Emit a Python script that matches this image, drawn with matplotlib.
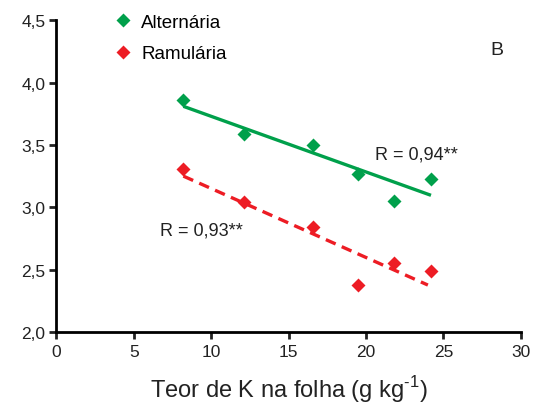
import matplotlib
matplotlib.use('Agg')
import matplotlib.pyplot as plt

plt.rcParams['font.family'] = ['Liberation Sans', 'DejaVu Sans']
plt.rcParams['mathtext.fontset'] = 'custom'
plt.rcParams['mathtext.rm'] = 'Liberation Sans'

# leaf K content (g/kg) and disease values
k_leaf = [8.2, 12.1, 16.6, 19.5, 21.8, 24.2]
alternaria = [3.86, 3.585, 3.50, 3.265, 3.05, 3.225]
ramularia = [3.31, 3.04, 2.84, 2.38, 2.55, 2.49]

# fitted trend lines (end points)
alt_fit_x = [8.2, 24.2]
alt_fit_y = [3.81, 3.096]
ram_fit_x = [8.2, 24.0]
ram_fit_y = [3.25, 2.376]

green = '#00a04b'
red = '#ed1c24'

fig = plt.figure(figsize=(5.33, 4.10), dpi=100)
ax = fig.add_axes([0.106, 0.188, 0.871, 0.76])

ax.plot(alt_fit_x, alt_fit_y, color=green, lw=2.4, solid_capstyle='butt')
ax.plot(ram_fit_x, ram_fit_y, color=red, lw=2.4, ls=(0, (3.2, 2)), dash_capstyle='butt')
ax.plot(k_leaf, alternaria, 'D', color=green, ms=7, mec='none', label='Alternária')
ax.plot(k_leaf, ramularia, 'D', color=red, ms=7, mec='none', label='Ramulária')

ax.set_xlim(0, 30)
ax.set_ylim(2.0, 4.5)
ax.set_xticks(range(0, 31, 5))
ax.set_yticks([2.0, 2.5, 3.0, 3.5, 4.0, 4.5])
ax.set_yticklabels(['2,0', '2,5', '3,0', '3,5', '4,0', '4,5'])

for s in ['top', 'right']:
    ax.spines[s].set_visible(False)
for s in ['left', 'bottom']:
    ax.spines[s].set_linewidth(2)
ax.tick_params(direction='out', length=5, width=2, labelsize=12.5, colors='#222222', pad=4)
ax.tick_params(axis='y', pad=3)

ax.set_xlabel('Teor de K na folha (g kg$^{\\text{-}1}$)', fontsize=17, color='#222222', labelpad=10)

ax.text(20.6, 3.425, 'R = 0,94**', fontsize=13, color='#222222', va='center')
ax.text(6.7, 2.82, 'R = 0,93**', fontsize=13, color='#222222', va='center')
ax.text(0.935, 0.905, 'B', transform=ax.transAxes, fontsize=14, color='#222222', va='center')

ax.legend(loc='upper left', bbox_to_anchor=(0.11, 1.045), frameon=False, fontsize=13.5,
          handlelength=0.8, handletextpad=0.6, labelspacing=0.75, borderaxespad=0)

fig.savefig('out.png', dpi=100)
